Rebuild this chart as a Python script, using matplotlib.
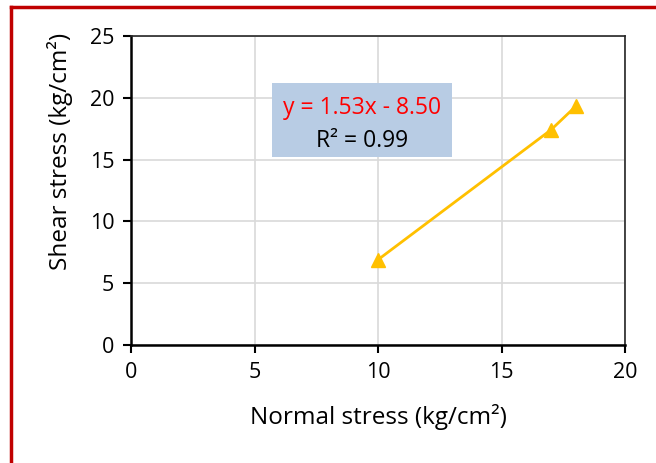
import matplotlib
matplotlib.use("Agg")
import matplotlib.pyplot as plt
from matplotlib.lines import Line2D

plt.rcParams["font.family"] = ["Open Sans", "DejaVu Sans"]

# Direct shear test results
normal_stress = [10, 17, 18]
shear_stress = [6.9, 17.4, 19.3]

x_ticks = [0, 5, 10, 15, 20]
y_ticks = [0, 5, 10, 15, 20, 25]

slope, intercept = 1.53, -8.50
r_squared = 0.99

fig = plt.figure(figsize=(6.56, 4.63), dpi=100)
ax = fig.add_axes([131 / 656, 1 - 345 / 463, 494 / 656, 309 / 463])

ax.plot(normal_stress, shear_stress, color="#FFC000", lw=2,
        marker="^", markersize=10, zorder=3, clip_on=False)

ax.set_xlim(0, 20)
ax.set_ylim(0, 25)
ax.set_xticks(x_ticks)
ax.set_yticks(y_ticks)
ax.grid(True, color="#D9D9D9", lw=1.2)
ax.set_axisbelow(True)
ax.tick_params(labelsize=15.5, direction="out", length=6, width=1.5, pad=6)

for side in ["left", "bottom"]:
    ax.spines[side].set_linewidth(1.8)
for side in ["top", "right"]:
    ax.spines[side].set_linewidth(1.2)
    ax.spines[side].set_color("#262626")

ax.set_xlabel("Normal stress (kg/cm²)", fontsize=17.5, labelpad=15)
ax.set_ylabel("Shear stress (kg/cm²)", fontsize=17.5)
ax.yaxis.set_label_coords(-0.118, 0.628)

# Trendline equation box
ax.add_patch(plt.Rectangle((5.7, 15.2), 7.3, 6.0, facecolor="#B8CCE4",
                           edgecolor="none", zorder=2))
ax.text(9.35, 19.2, f"y = {slope:.2f}x - {-intercept:.2f}", color="#FF0000",
        fontsize=16.5, ha="center", va="center", zorder=4)
ax.text(9.35, 16.5, f"R² = {r_squared:.2f}", color="black",
        fontsize=16.5, ha="center", va="center", zorder=4)

# Red frame along the top and left edges
fig.add_artist(Line2D([10.5 / 656, 10.5 / 656], [0, 1 - 6.5 / 463],
                      color="#C00000", lw=2.5, transform=fig.transFigure))
fig.add_artist(Line2D([10.5 / 656, 1], [1 - 6.5 / 463, 1 - 6.5 / 463],
                      color="#C00000", lw=2.5, transform=fig.transFigure))

fig.savefig("out.png", dpi=100)
